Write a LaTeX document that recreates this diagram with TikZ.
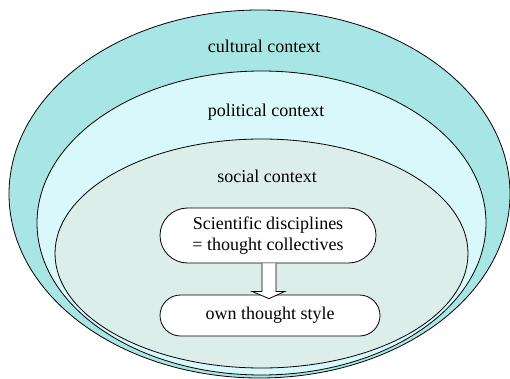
\documentclass[tikz,border=0pt]{standalone}
\usepackage{fontspec}
\setmainfont{Liberation Serif}
\usetikzlibrary{shapes.misc,calc}
\definecolor{cultfill}{HTML}{A8E6E6}
\definecolor{polfill}{HTML}{D8F8FB}
\definecolor{socfill}{HTML}{DCEEEA}
\begin{document}
\begin{tikzpicture}[x=1pt,y=-1pt,
  ring/.style={draw=black,line width=0.8pt},
  lbl/.style={font=\fontsize{18}{21.6}\selectfont,inner sep=0pt},
  pill/.style={rounded rectangle,draw=black,line width=0.8pt,fill=white,
    font=\fontsize{18}{21.6}\selectfont,align=center,inner sep=0pt}]
\useasboundingbox (0,0) rectangle (510,379);
\clip (0,0) rectangle (510,379);
\draw[ring,fill=cultfill] (259.5,194) ellipse [x radius=250.5,y radius=184];
\draw[ring,fill=polfill] (261.5,223) ellipse [x radius=224.5,y radius=152];
\draw[ring,fill=socfill] (261.5,253.5) ellipse [x radius=206.5,y radius=114.5];
\node[lbl] (cult) at (264,46) {cultural context};
\node[lbl] (pol) at (266,112) {political context};
\node[lbl] (soc) at (267,176) {social context};
\node[pill,minimum width=216,minimum height=55] (sci) at (268,235.5) {Scientific disciplines\\= thought collectives};
\node[pill,minimum width=220,minimum height=41] (own) at (270,315.5) {own thought style};
\draw[line width=0.8pt,fill=white]
  ($(sci.south)+(-6,0)$) -- ($(sci.south)+(-6,28)$) -- ($(sci.south)+(-16,28)$)
  -- ($(own.north)+(-1,4)$)
  -- ($(sci.south)+(17,28)$) -- ($(sci.south)+(8,28)$) -- ($(sci.south)+(8,0)$);
\end{tikzpicture}
\end{document}
